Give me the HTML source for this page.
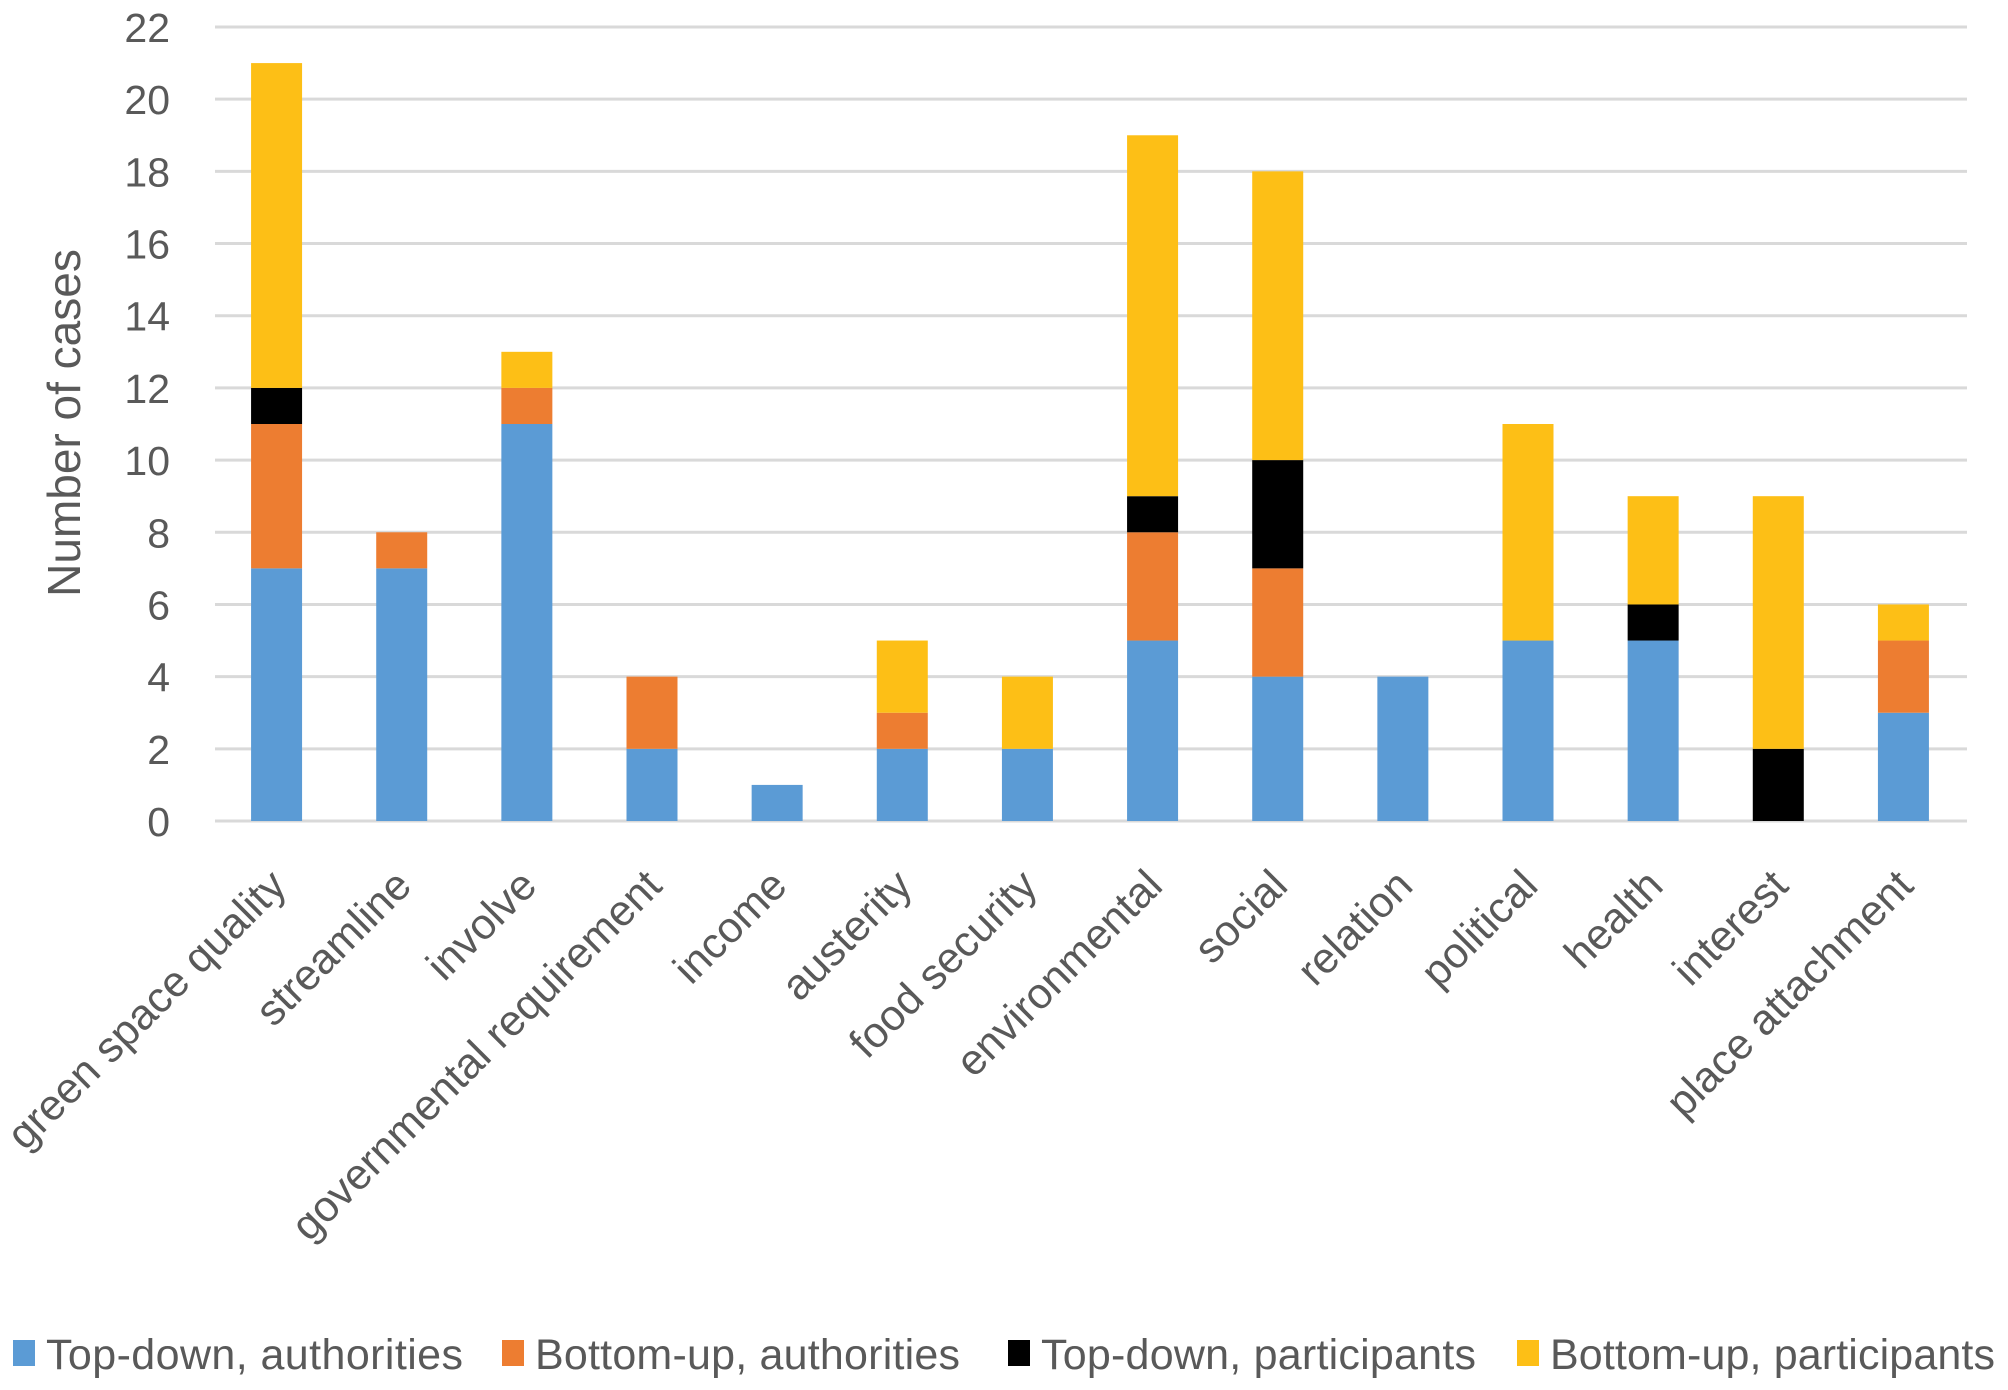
<!DOCTYPE html>
<html><head><meta charset="utf-8"><style>
body{margin:0;background:#fff;}
svg text{font-family:"Liberation Sans",sans-serif;fill:#595959;}
</style></head><body>
<svg id="chart" width="2008" height="1385" xmlns="http://www.w3.org/2000/svg">
<g id="grid"></g><g id="bars"></g><g id="xlabels"></g><g id="ylabels"></g>
<text transform="translate(80,423) rotate(-90)" text-anchor="middle" font-size="46">Number of cases</text>
<g id="legend"></g>
</svg>
<script>
const categories=["green space quality","streamline","involve","governmental requirement","income","austerity","food security","environmental","social","relation","political","health","interest","place attachment"];
const topDownAuth=[7,7,11,2,1,2,2,5,4,4,5,5,0,3];
const bottomUpAuth=[4,1,1,2,0,1,0,3,3,0,0,0,0,2];
const topDownPart=[1,0,0,0,0,0,0,1,3,0,0,1,2,0];
const bottomUpPart=[9,0,1,0,0,2,2,10,8,0,6,3,7,1];
const yTicks=[0,2,4,6,8,10,12,14,16,18,20,22];
const seriesNames=["Top-down, authorities","Bottom-up, authorities","Top-down, participants","Bottom-up, participants"];
const colors=["#5b9bd5","#ed7d31","#000000","#fdbf16"];
const NS="http://www.w3.org/2000/svg";
const x0=215,x1=1967,y0=821,yTop=27;
const y=v=>y0-(v/22)*(y0-yTop);
const step=(x1-x0)/categories.length;
const xc=i=>x0+step*(i+0.5)-1;
const bw=51;
function mk(tag,attrs,parent){const e=document.createElementNS(NS,tag);for(const k in attrs)e.setAttribute(k,attrs[k]);parent.appendChild(e);return e;}
const grid=document.getElementById('grid'),ylab=document.getElementById('ylabels');
yTicks.forEach(t=>{
 const l=mk('line',{x1:x0,x2:x1,y1:y(t),y2:y(t),stroke:'#d9d9d9','stroke-width':3},grid);
 
 
 const tx=mk('text',{x:170,y:y(t)+15,'text-anchor':'end','font-size':41},ylab);
 
 
 tx.textContent=t;
});
const series=[topDownAuth,bottomUpAuth,topDownPart,bottomUpPart];
const bars=document.getElementById('bars'),xl=document.getElementById('xlabels');
categories.forEach((c,i)=>{
 let base=0;
 series.forEach((s,k)=>{
  const v=s[i]; if(!v)return;
  const r=mk('rect',{x:xc(i)-bw/2,y:y(base+v),width:bw,height:y(base)-y(base+v),fill:colors[k]},bars);
  
  
  base+=v;
 });
 const t=mk('text',{'text-anchor':'end','font-size':43,transform:`translate(${xc(i)+12},${888}) rotate(-45)`},xl);
 
 
 t.textContent=c;
});
const lg=document.getElementById('legend');
const lx=[13,502,1008,1517];
seriesNames.forEach((n,k)=>{
 const g=mk('g',{},lg);
 
 
 mk('rect',{x:lx[k],y:1340,width:22,height:26,fill:colors[k]},g);
 const t=mk('text',{x:lx[k]+33,y:1369,'font-size':43,textLength:[417,425,435,445][k]},g);
 t.textContent=n;
});
</script>
</body></html>
